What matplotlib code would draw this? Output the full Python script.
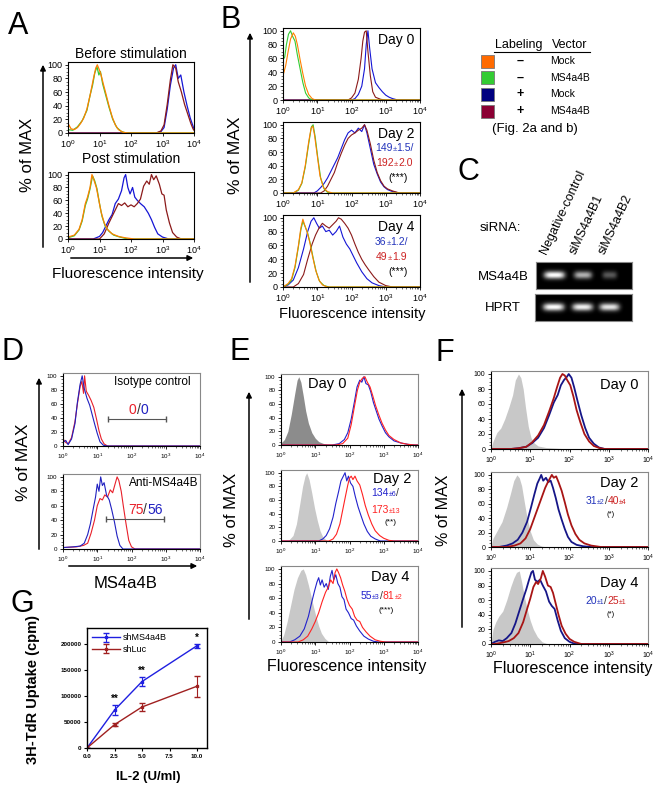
import numpy as np
import matplotlib
matplotlib.use("Agg")
import matplotlib.pyplot as plt
from matplotlib.patches import FancyArrowPatch, Rectangle

plt.rcParams["font.family"] = ["Liberation Sans", "DejaVu Sans"]
plt.rcParams["mathtext.default"] = "regular"

W, H = 661, 787

# ---- data: histograms as (log10 intensity, % of max) pairs ----
# A: before / post stimulation
a_before_orange = [(0.0, 14), (0.1, 6), (0.2, 5), (0.3, 8), (0.4, 14), (0.5, 22), (0.6, 35), (0.7, 55), (0.8, 78),
                   (0.88, 95), (0.93, 100), (1.0, 92), (1.05, 85), (1.12, 72), (1.2, 58), (1.3, 40), (1.4, 24),
                   (1.5, 12), (1.6, 5), (1.75, 1), (1.9, 0)]
a_before_green = [(0.0, 5), (0.15, 4), (0.3, 9), (0.45, 18), (0.6, 33), (0.7, 55), (0.78, 70), (0.85, 88),
                  (0.92, 97), (0.98, 85), (1.03, 90), (1.1, 72), (1.2, 55), (1.3, 38), (1.42, 20), (1.55, 8),
                  (1.7, 2), (1.85, 0)]
a_before_blue = [(2.8, 0), (2.95, 2), (3.05, 8), (3.15, 35), (3.25, 70), (3.35, 95), (3.42, 100), (3.5, 80),
                 (3.58, 85), (3.68, 60), (3.78, 40), (3.88, 22), (3.97, 10), (4.0, 6)]
a_before_maroon = [(2.8, 0), (2.95, 3), (3.05, 12), (3.15, 42), (3.25, 78), (3.33, 100), (3.42, 95), (3.5, 75),
                   (3.6, 60), (3.7, 42), (3.8, 28), (3.9, 14), (3.97, 6), (4.0, 4)]
a_post_orange = [(0.0, 3), (0.2, 6), (0.35, 15), (0.45, 30), (0.55, 55), (0.62, 65), (0.7, 80), (0.76, 100),
                 (0.82, 92), (0.9, 80), (0.98, 60), (1.05, 42), (1.15, 25), (1.25, 15), (1.4, 8), (1.6, 4),
                 (1.8, 2), (2.1, 0)]
a_post_green = [(0.0, 2), (0.2, 5), (0.35, 14), (0.45, 28), (0.55, 52), (0.62, 62), (0.7, 78), (0.78, 98),
                (0.85, 90), (0.92, 78), (1.0, 55), (1.08, 35), (1.18, 20), (1.3, 12), (1.45, 6), (1.65, 3), (1.9, 0)]
a_post_blue = [(0.8, 0), (1.0, 4), (1.1, 10), (1.2, 20), (1.3, 30), (1.4, 38), (1.5, 55), (1.6, 62), (1.7, 75),
               (1.78, 95), (1.83, 100), (1.9, 80), (1.97, 70), (2.05, 80), (2.12, 65), (2.2, 60), (2.3, 55),
               (2.42, 50), (2.55, 40), (2.65, 30), (2.75, 18), (2.85, 8), (3.0, 3), (3.2, 0)]
a_post_maroon = [(1.0, 0), (1.15, 8), (1.3, 25), (1.4, 35), (1.5, 45), (1.6, 55), (1.7, 52), (1.8, 56), (1.9, 50),
                 (2.0, 53), (2.1, 50), (2.2, 55), (2.3, 62), (2.4, 82), (2.5, 90), (2.58, 85), (2.65, 100),
                 (2.72, 92), (2.8, 98), (2.9, 85), (2.98, 70), (3.05, 68), (3.12, 45), (3.22, 25), (3.32, 10),
                 (3.45, 3), (3.6, 0)]

# B: day 0 / 2 / 4
b0_orange = [(0.0, 35), (0.08, 50), (0.15, 70), (0.22, 88), (0.3, 97), (0.36, 92), (0.42, 80), (0.5, 58),
             (0.58, 38), (0.66, 20), (0.75, 8), (0.85, 2), (0.95, 0)]
b0_green = [(0.0, 58), (0.05, 62), (0.1, 80), (0.16, 95), (0.22, 100), (0.28, 92), (0.35, 85), (0.42, 65),
            (0.5, 45), (0.58, 25), (0.66, 10), (0.75, 3), (0.85, 0)]
b0_blue = [(2.0, 0), (2.1, 2), (2.2, 8), (2.3, 20), (2.38, 45), (2.43, 80), (2.48, 100), (2.53, 75), (2.6, 45),
           (2.7, 25), (2.8, 18), (2.9, 12), (3.0, 7), (3.1, 4), (3.2, 2), (3.35, 0)]
b0_maroon = [(1.9, 0), (2.0, 3), (2.1, 10), (2.2, 30), (2.28, 60), (2.33, 85), (2.38, 98), (2.43, 100),
             (2.48, 70), (2.55, 35), (2.62, 12), (2.7, 4), (2.85, 1), (3.0, 0)]
b2_orange = [(0.3, 0), (0.45, 5), (0.55, 15), (0.65, 40), (0.75, 75), (0.82, 95), (0.87, 98), (0.92, 85),
             (1.0, 55), (1.08, 25), (1.18, 8), (1.3, 2), (1.45, 0)]
b2_green = [(0.3, 0), (0.45, 4), (0.55, 14), (0.65, 38), (0.75, 72), (0.83, 97), (0.88, 100), (0.94, 82),
            (1.02, 50), (1.1, 22), (1.2, 6), (1.3, 1), (1.45, 0)]
b2_blue = [(0.9, 0), (1.0, 3), (1.1, 8), (1.2, 14), (1.3, 22), (1.4, 32), (1.5, 42), (1.6, 52), (1.7, 65),
           (1.8, 78), (1.9, 88), (2.0, 92), (2.1, 88), (2.2, 95), (2.3, 90), (2.38, 100), (2.45, 88), (2.55, 65),
           (2.65, 42), (2.75, 28), (2.85, 16), (2.95, 9), (3.05, 5), (3.2, 2), (3.4, 0)]
b2_maroon = [(1.1, 0), (1.2, 3), (1.3, 10), (1.4, 20), (1.5, 30), (1.6, 45), (1.7, 58), (1.8, 70), (1.9, 80),
             (2.0, 85), (2.1, 88), (2.2, 92), (2.3, 95), (2.38, 100), (2.45, 92), (2.55, 72), (2.65, 48),
             (2.75, 30), (2.85, 18), (2.95, 10), (3.05, 6), (3.2, 3), (3.4, 0)]
b4_orange = [(0.0, 0), (0.15, 5), (0.25, 12), (0.35, 30), (0.45, 60), (0.52, 85), (0.58, 98), (0.63, 90),
             (0.7, 80), (0.78, 65), (0.86, 45), (0.95, 25), (1.05, 10), (1.15, 3), (1.3, 0)]
b4_green = [(0.0, 0), (0.15, 4), (0.25, 10), (0.35, 28), (0.45, 58), (0.52, 82), (0.58, 95), (0.64, 88),
            (0.72, 78), (0.8, 62), (0.88, 42), (0.97, 22), (1.07, 8), (1.2, 2), (1.35, 0)]
b4_blue = [(0.0, 0), (0.15, 3), (0.3, 10), (0.45, 28), (0.6, 55), (0.72, 80), (0.82, 95), (0.9, 100), (0.98, 92),
           (1.06, 85), (1.15, 88), (1.25, 80), (1.35, 82), (1.45, 75), (1.55, 80), (1.65, 88), (1.75, 72),
           (1.85, 62), (1.95, 55), (2.05, 45), (2.15, 35), (2.3, 22), (2.45, 12), (2.6, 6), (2.8, 2), (3.0, 0)]
b4_maroon = [(0.3, 0), (0.45, 5), (0.6, 18), (0.72, 40), (0.85, 62), (0.95, 75), (1.05, 85), (1.15, 92),
             (1.25, 88), (1.35, 85), (1.45, 90), (1.55, 95), (1.62, 100), (1.7, 98), (1.8, 92), (1.9, 85),
             (2.0, 75), (2.1, 62), (2.2, 50), (2.3, 40), (2.4, 32), (2.5, 25), (2.65, 15), (2.8, 7), (3.0, 2),
             (3.2, 0)]

# C: gel band intensities
gel_lanes = ["Negative-control", "siMS4a4B1", "siMS4a4B2"]
ms4a4b_bands = [1.0, 0.7, 0.35]
hprt_bands = [1.0, 0.95, 0.9]

# D: isotype / anti-MS4a4B
d_iso_red = [(0.0, 10), (0.08, 5), (0.15, 3), (0.25, 12), (0.35, 35), (0.42, 60), (0.5, 85), (0.55, 92),
             (0.6, 75), (0.63, 100), (0.68, 78), (0.75, 72), (0.82, 65), (0.9, 55), (0.98, 38), (1.05, 22),
             (1.12, 10), (1.2, 3), (1.3, 0)]
d_iso_blue = [(0.0, 5), (0.08, 8), (0.15, 2), (0.25, 10), (0.35, 32), (0.42, 62), (0.5, 88), (0.56, 100),
              (0.62, 82), (0.7, 68), (0.78, 58), (0.85, 45), (0.92, 32), (1.0, 18), (1.08, 6), (1.18, 1), (1.3, 0)]
d_anti_blue = [(0.0, 2), (0.3, 3), (0.5, 4), (0.62, 8), (0.72, 20), (0.8, 35), (0.88, 55), (0.95, 72), (1.0, 90),
               (1.05, 80), (1.1, 100), (1.15, 88), (1.2, 92), (1.27, 75), (1.35, 68), (1.42, 55), (1.5, 38),
               (1.58, 18), (1.66, 5), (1.75, 0)]
d_anti_red = [(0.0, 2), (0.4, 3), (0.6, 5), (0.72, 8), (0.82, 22), (0.92, 40), (1.0, 60), (1.08, 70), (1.15, 68),
              (1.22, 75), (1.3, 72), (1.38, 82), (1.45, 78), (1.52, 90), (1.58, 100), (1.63, 95), (1.7, 80),
              (1.76, 60), (1.84, 35), (1.92, 12), (2.0, 3), (2.1, 0)]
d_iso_gate = (20, 1000)
d_anti_gate = (18, 900)
d_iso_pct = ("0", "0")
d_anti_pct = ("75", "56")

# E: day 0 / 2 / 4
e0_gray = [(0.0, 3), (0.1, 8), (0.2, 20), (0.3, 45), (0.4, 75), (0.47, 95), (0.52, 100), (0.58, 92), (0.65, 72),
           (0.72, 50), (0.8, 32), (0.9, 18), (1.0, 10), (1.1, 5), (1.25, 2), (1.4, 0)]
e0_blue = [(1.5, 0), (1.7, 2), (1.85, 8), (1.95, 18), (2.05, 38), (2.15, 65), (2.22, 85), (2.3, 95), (2.36, 92),
           (2.42, 100), (2.48, 90), (2.55, 88), (2.62, 78), (2.7, 62), (2.78, 50), (2.86, 38), (2.95, 28),
           (3.05, 18), (3.15, 12), (3.3, 6), (3.5, 3), (3.7, 1), (3.9, 0)]
e0_red = [(1.6, 0), (1.8, 2), (1.95, 10), (2.05, 30), (2.15, 58), (2.23, 80), (2.3, 92), (2.38, 98), (2.45, 100),
          (2.52, 92), (2.6, 85), (2.68, 72), (2.76, 58), (2.85, 45), (2.95, 32), (3.05, 22), (3.15, 14), (3.3, 8),
          (3.5, 3), (3.7, 1), (3.9, 0)]
e2_gray = [(0.2, 0), (0.35, 8), (0.45, 25), (0.55, 55), (0.63, 80), (0.7, 95), (0.75, 100), (0.82, 90), (0.9, 70),
           (0.98, 48), (1.06, 30), (1.14, 15), (1.22, 6), (1.35, 0)]
e2_blue = [(1.1, 0), (1.22, 3), (1.32, 8), (1.42, 18), (1.52, 35), (1.6, 55), (1.68, 72), (1.75, 88), (1.82, 95),
           (1.87, 100), (1.92, 88), (1.97, 95), (2.03, 85), (2.1, 80), (2.17, 65), (2.25, 50), (2.33, 38),
           (2.42, 25), (2.52, 14), (2.62, 7), (2.75, 3), (2.9, 0)]
e2_red = [(1.4, 0), (1.52, 3), (1.62, 10), (1.72, 25), (1.8, 45), (1.88, 65), (1.95, 82), (2.0, 92), (2.05, 95),
          (2.1, 90), (2.16, 95), (2.22, 88), (2.3, 82), (2.38, 68), (2.46, 52), (2.55, 38), (2.65, 25), (2.75, 15),
          (2.88, 8), (3.0, 4), (3.15, 1), (3.3, 0)]
e4_gray = [(0.0, 2), (0.08, 10), (0.18, 28), (0.28, 50), (0.38, 72), (0.48, 88), (0.58, 98), (0.65, 100),
           (0.72, 92), (0.8, 78), (0.88, 62), (0.95, 48), (1.02, 35), (1.1, 22), (1.18, 12), (1.28, 5), (1.4, 0)]
e4_blue = [(0.25, 0), (0.4, 3), (0.55, 8), (0.68, 18), (0.8, 35), (0.9, 55), (0.98, 70), (1.05, 82), (1.1, 88),
           (1.15, 78), (1.2, 85), (1.26, 75), (1.32, 80), (1.38, 72), (1.44, 90), (1.49, 98), (1.54, 85),
           (1.6, 92), (1.66, 80), (1.72, 75), (1.78, 62), (1.84, 58), (1.9, 45), (1.97, 40), (2.05, 32),
           (2.12, 30), (2.2, 22), (2.3, 15), (2.42, 8), (2.55, 4), (2.7, 1), (2.85, 0)]
e4_red = [(0.5, 0), (0.65, 3), (0.78, 8), (0.9, 18), (1.0, 28), (1.1, 40), (1.2, 55), (1.3, 68), (1.38, 75),
          (1.45, 85), (1.52, 80), (1.58, 95), (1.63, 100), (1.68, 95), (1.74, 88), (1.8, 78), (1.86, 70),
          (1.93, 58), (2.0, 50), (2.08, 45), (2.15, 35), (2.22, 30), (2.3, 28), (2.38, 20), (2.48, 14),
          (2.6, 8), (2.75, 3), (2.9, 1), (3.05, 0)]

# F: day 0 / 2 / 4
f0_gray = [(0.0, 0), (0.05, 10), (0.15, 22), (0.25, 28), (0.35, 40), (0.45, 55), (0.55, 72), (0.62, 92),
           (0.7, 100), (0.76, 95), (0.82, 80), (0.88, 55), (0.95, 30), (1.02, 15), (1.1, 8), (1.2, 4), (1.4, 2),
           (1.7, 1), (2.0, 0)]
f0_blue = [(0.5, 0), (0.7, 1), (0.9, 3), (1.05, 8), (1.2, 15), (1.35, 28), (1.48, 45), (1.6, 62), (1.7, 72),
           (1.78, 85), (1.86, 92), (1.93, 96), (1.98, 100), (2.05, 95), (2.12, 82), (2.2, 65), (2.3, 45),
           (2.4, 28), (2.5, 15), (2.62, 7), (2.75, 2), (2.9, 0)]
f0_red = [(0.5, 0), (0.7, 1), (0.9, 3), (1.05, 9), (1.2, 18), (1.35, 32), (1.48, 50), (1.6, 68), (1.68, 82),
          (1.76, 95), (1.82, 100), (1.88, 98), (1.94, 92), (2.02, 85), (2.1, 70), (2.18, 52), (2.28, 35),
          (2.38, 20), (2.5, 10), (2.62, 4), (2.78, 1), (2.9, 0)]
f2_gray = [(0.0, 0), (0.05, 12), (0.15, 22), (0.28, 35), (0.4, 55), (0.5, 75), (0.58, 92), (0.66, 100),
           (0.72, 96), (0.78, 85), (0.85, 62), (0.92, 40), (1.0, 22), (1.08, 10), (1.18, 4), (1.3, 1), (1.5, 0)]
f2_blue = [(0.2, 0), (0.4, 2), (0.55, 5), (0.68, 10), (0.8, 20), (0.92, 35), (1.02, 55), (1.1, 72), (1.18, 88),
           (1.24, 95), (1.28, 100), (1.33, 92), (1.4, 96), (1.46, 90), (1.52, 92), (1.58, 82), (1.65, 68),
           (1.72, 52), (1.8, 38), (1.88, 25), (1.96, 14), (2.05, 7), (2.18, 3), (2.35, 1), (2.55, 0)]
f2_red = [(0.4, 0), (0.6, 2), (0.75, 5), (0.88, 12), (1.0, 25), (1.1, 40), (1.2, 55), (1.3, 70), (1.38, 82),
          (1.45, 90), (1.5, 95), (1.55, 100), (1.6, 96), (1.66, 98), (1.72, 90), (1.8, 78), (1.88, 62),
          (1.96, 45), (2.05, 30), (2.15, 18), (2.25, 10), (2.38, 5), (2.55, 2), (2.8, 0)]
f4_gray = [(0.0, 0), (0.05, 20), (0.12, 30), (0.2, 38), (0.3, 45), (0.4, 60), (0.5, 78), (0.58, 90), (0.65, 98),
           (0.72, 100), (0.78, 85), (0.85, 65), (0.92, 48), (1.0, 32), (1.08, 20), (1.18, 10), (1.3, 3), (1.45, 0)]
f4_blue = [(0.0, 0), (0.1, 3), (0.2, 5), (0.3, 4), (0.4, 8), (0.52, 15), (0.62, 28), (0.72, 45), (0.82, 62),
           (0.9, 75), (0.97, 88), (1.03, 98), (1.07, 100), (1.12, 88), (1.18, 85), (1.25, 88), (1.32, 80),
           (1.4, 72), (1.48, 58), (1.55, 52), (1.62, 48), (1.7, 32), (1.78, 18), (1.88, 8), (2.0, 3), (2.15, 0)]
f4_red = [(0.1, 0), (0.3, 2), (0.45, 4), (0.58, 8), (0.7, 15), (0.82, 30), (0.92, 48), (1.0, 62), (1.08, 78),
          (1.15, 85), (1.2, 82), (1.27, 90), (1.32, 100), (1.38, 92), (1.45, 80), (1.52, 78), (1.58, 70),
          (1.65, 55), (1.72, 40), (1.8, 25), (1.9, 14), (2.0, 7), (2.12, 3), (2.3, 0)]

# G: proliferation
il2_dose = [0, 2.5, 5, 10]
sh_ms4a4b = [0, 73000, 128000, 197000]
sh_ms4a4b_err = [0, 10000, 9000, 4000]
sh_luc = [0, 45000, 79000, 119000]
sh_luc_err = [0, 3000, 8000, 20000]
g_signif = ["", "**", "**", "*"]

# legend table of panel A/B
legend_colors = ["#FF6A00", "#33CC33", "#000080", "#8B0033"]
legend_labeling = ["–", "–", "+", "+"]
legend_vector = ["Mock", "MS4a4B", "Mock", "MS4a4B"]

# ---- helpers ----
fig = plt.figure(figsize=(W / 100, H / 100), dpi=100)


def fx(x):
    return x / W


def fy(y):
    return 1 - y / H


def px_axes(x0, y0, x1, y1):
    return fig.add_axes([fx(x0), fy(y1), (x1 - x0) / W, (y1 - y0) / H])


def flow_axes(rect, tick_size=6.5, spine_color="black"):
    ax = px_axes(*rect)
    ax.set_xscale("log")
    ax.set_xlim(1, 1e4)
    ax.set_ylim(0, 104)
    ax.set_xticks([1, 10, 100, 1000, 10000])
    ax.set_yticks([0, 20, 40, 60, 80, 100])
    ax.tick_params(labelsize=tick_size, length=2.5, width=0.6, pad=1.5)
    ax.tick_params(which="minor", length=1.5, width=0.4)
    ax.yaxis.set_minor_locator(matplotlib.ticker.MultipleLocator(5))
    for s in ax.spines.values():
        s.set_linewidth(0.8)
        s.set_color(spine_color)
    ax.spines["left"].set_color("black")
    ax.spines["bottom"].set_color("black")
    return ax


def curve(ax, pts, color, lw=0.9, fill=False):
    lx = [p[0] for p in pts]
    y = [p[1] for p in pts]
    if lx[0] > 0:
        lx = [0.0] + lx
        y = [0] + y
    if lx[-1] < 4:
        lx = lx + [4.0]
        y = y + [0]
    x = 10 ** np.array(lx)
    if fill:
        ax.fill_between(x, y, color=color, lw=0)
    else:
        ax.plot(x, y, color=color, lw=lw)


def rich(ax, x, y, parts, ha="left"):
    t = ax.text(x, y, parts[0][0], color=parts[0][1], fontsize=parts[0][2], transform=ax.transAxes,
                va="center", ha=ha)
    for s, c, fs in parts[1:]:
        t = ax.annotate(s, xy=(1, 0), xycoords=t, color=c, fontsize=fs, va="bottom")


def arrow(p0, p1):
    fig.add_artist(FancyArrowPatch((fx(p0[0]), fy(p0[1])), (fx(p1[0]), fy(p1[1])), transform=fig.transFigure,
                                   arrowstyle="-|>", mutation_scale=8, lw=1.1, color="black"))


def letter(x, y, s):
    fig.text(fx(x), fy(y), s, fontsize=22, ha="center", va="center")


# ---- panel A ----
letter(18, 26, "A")
ORANGE, GREEN, BLUE, MAROON = "#FF8000", "#33CC33", "#1515D5", "#8B1A1A"
ax = flow_axes((68, 62, 194, 133))
for pts, c in [(a_before_blue, BLUE), (a_before_maroon, MAROON), (a_before_green, GREEN), (a_before_orange, ORANGE)]:
    curve(ax, pts, c)
fig.text(fx(131), fy(54), "Before stimulation", fontsize=10, ha="center", va="center")
ax = flow_axes((68, 172, 194, 239))
for pts, c in [(a_post_blue, BLUE), (a_post_maroon, MAROON), (a_post_green, GREEN), (a_post_orange, ORANGE)]:
    curve(ax, pts, c)
fig.text(fx(131), fy(159), "Post stimulation", fontsize=10, ha="center", va="center")
arrow((43, 250), (43, 62))
arrow((68, 258), (196, 258))
fig.text(fx(28), fy(155), "% of MAX", fontsize=12, rotation=90, ha="center", va="center")
fig.text(fx(128), fy(274), "Fluorescence intensity", fontsize=11, ha="center", va="center")

# ---- panel B ----
letter(231, 20, "B")
BBLUE, BRED = "#2233BB", "#CC2222"
b_sets = [(b0_blue, b0_maroon, b0_green, b0_orange), (b2_blue, b2_maroon, b2_green, b2_orange),
          (b4_blue, b4_maroon, b4_green, b4_orange)]
b_rects = [(283, 28, 420, 100), (283, 122, 420, 193), (283, 215, 420, 287)]
b_days = ["Day 0", "Day 2", "Day 4"]
b_stats = [None, (("149", "1.5/"), ("192", "2.0")), (("36", "1.2/"), ("49", "1.9"))]
for rect, curves, day, st in zip(b_rects, b_sets, b_days, b_stats):
    ax = flow_axes(rect)
    for pts, c in zip(curves, [BLUE, MAROON, GREEN, ORANGE]):
        curve(ax, pts, c, lw=0.8)
    ax.text(0.96, 0.83, day, transform=ax.transAxes, fontsize=10, ha="right", va="center")
    if st:
        rich(ax, 0.67, 0.63, [(st[0][0], BBLUE, 7.5), ("±", BBLUE, 5.5), (st[0][1], BBLUE, 7.5)])
        rich(ax, 0.68, 0.42, [(st[1][0], BRED, 7.5), ("±", BRED, 5.5), (st[1][1], BRED, 7.5)])
        ax.text(0.84, 0.21, "(***)", transform=ax.transAxes, fontsize=7.5, ha="center", va="center")
arrow((250, 285), (250, 30))
fig.text(fx(236), fy(155), "% of MAX", fontsize=12.5, rotation=90, ha="center", va="center")
fig.text(fx(352), fy(314), "Fluorescence intensity", fontsize=10.5, ha="center", va="center")

# ---- legend table ----
fig.text(fx(519), fy(45), "Labeling", fontsize=9, ha="center", va="center")
fig.text(fx(570), fy(45), "Vector", fontsize=9, ha="center", va="center")
fig.add_artist(plt.Line2D([fx(494), fx(590)], [fy(52), fy(52)], transform=fig.transFigure, color="black", lw=0.8))
for i, (c, lab, vec) in enumerate(zip(legend_colors, legend_labeling, legend_vector)):
    yc = 61 + i * 16.7
    fig.add_artist(Rectangle((fx(481), fy(yc + 6.5)), 13 / W, 13 / H, transform=fig.transFigure,
                             facecolor=c, edgecolor="#777777", lw=0.6))
    fig.text(fx(520), fy(yc), lab, fontsize=9, ha="center", va="center", fontweight="bold")
    fig.text(fx(550), fy(yc), vec, fontsize=7.5, ha="left", va="center")
fig.text(fx(535), fy(129), "(Fig. 2a and b)", fontsize=9.5, ha="center", va="center")

# ---- panel C ----
letter(468, 172, "C")
fig.text(fx(500), fy(228), "siRNA:", fontsize=9.5, ha="center", va="center")
for lbl, xb in zip(gel_lanes, [549, 578, 607]):
    fig.text(fx(xb), fy(256), lbl, fontsize=9, rotation=65, rotation_mode="anchor", ha="left", va="bottom")
lane_pos = [0.19, 0.49, 0.77]
yy, xx = np.mgrid[0:1:40j, 0:1:120j]
for rect, bands, name, ly in [((536, 262, 632, 289), ms4a4b_bands, "MS4a4B", 277),
                              ((535, 294, 632, 321), hprt_bands, "HPRT", 308)]:
    gax = px_axes(*rect)
    img = np.zeros_like(xx)
    for cpos, v in zip(lane_pos, bands):
        wdt = 0.06 + 0.05 * v
        img += v * np.exp(-((xx - cpos) / wdt) ** 4 - ((yy - 0.5) / 0.14) ** 2)
    gax.imshow(np.clip(img, 0, 1), cmap="gray", vmin=0, vmax=1, aspect="auto", interpolation="bilinear")
    gax.set_xticks([])
    gax.set_yticks([])
    for s in gax.spines.values():
        s.set_color("#888888")
    fig.text(fx(503), fy(ly), name, fontsize=9.5, ha="center", va="center")

# ---- panel D ----
letter(13, 352, "D")
DRED, DBLUE = "#E8202A", "#2020C0"
ax = flow_axes((63, 373, 200, 446), tick_size=4.5, spine_color="#888888")
curve(ax, d_iso_red, DRED, lw=0.8)
curve(ax, d_iso_blue, DBLUE, lw=0.8)
ax.text(0.37, 0.88, "Isotype control", transform=ax.transAxes, fontsize=8.5, va="center")
ax.plot(d_iso_gate, [38, 38], color="#555555", lw=0.8, marker="|", ms=4)
ax.annotate(d_iso_pct[0], xy=(10 ** 2.15, 42), ha="right", va="bottom", color=DRED, fontsize=10)
t = ax.text(10 ** 2.15, 42, "/", ha="left", va="bottom", color="#333333", fontsize=10)
ax.annotate(d_iso_pct[1], xy=(1, 0), xycoords=t, va="bottom", color=DBLUE, fontsize=10)
ax = flow_axes((63, 474, 200, 549), tick_size=4.5, spine_color="#888888")
curve(ax, d_anti_red, DRED, lw=0.8)
curve(ax, d_anti_blue, DBLUE, lw=0.8)
ax.text(0.48, 0.88, "Anti-MS4a4B", transform=ax.transAxes, fontsize=8.5, va="center")
ax.plot(d_anti_gate, [41, 41], color="#555555", lw=0.8, marker="|", ms=4)
ax.annotate(d_anti_pct[0], xy=(10 ** 2.35, 45), ha="right", va="bottom", color=DRED, fontsize=10)
t = ax.text(10 ** 2.35, 45, "/", ha="left", va="bottom", color="#333333", fontsize=10)
ax.annotate(d_anti_pct[1], xy=(1, 0), xycoords=t, va="bottom", color=DBLUE, fontsize=10)
arrow((39, 552), (39, 375))
arrow((66, 566), (200, 566))
fig.text(fx(24), fy(462), "% of MAX", fontsize=12.5, rotation=90, ha="center", va="center")
fig.text(fx(126), fy(584), "MS4a4B", fontsize=12, ha="center", va="center")

# ---- panel E ----
letter(240, 352, "E")
EBLUE, ERED = "#2222CC", "#FF2222"
e_sets = [(e0_gray, e0_blue, e0_red), (e2_gray, e2_blue, e2_red), (e4_gray, e4_blue, e4_red)]
e_rects = [(281, 374, 418, 445), (281, 470, 418, 541), (281, 566, 418, 642)]
e_grays = ["#8C8C8C", "#C8C8C8", "#C8C8C8"]
for rect, (g, b, r), gc in zip(e_rects, e_sets, e_grays):
    ax = flow_axes(rect, tick_size=4.5, spine_color="#888888")
    curve(ax, g, gc, fill=True)
    curve(ax, b, EBLUE, lw=0.8)
    curve(ax, r, ERED, lw=0.8)
    if rect is e_rects[0]:
        ax.text(0.2, 0.86, "Day 0", transform=ax.transAxes, fontsize=10.5, va="center")
    elif rect is e_rects[1]:
        ax.text(0.95, 0.88, "Day 2", transform=ax.transAxes, fontsize=10.5, va="center", ha="right")
        rich(ax, 0.66, 0.68, [("134", EBLUE, 7.5), ("±6", EBLUE, 5), ("/", "#333333", 7.5)])
        rich(ax, 0.66, 0.44, [("173", ERED, 7.5), ("±13", ERED, 5)])
        ax.text(0.8, 0.26, "(**)", transform=ax.transAxes, fontsize=6, ha="center", va="center")
    else:
        ax.text(0.94, 0.86, "Day 4", transform=ax.transAxes, fontsize=10.5, va="center", ha="right")
        rich(ax, 0.58, 0.6, [("55", EBLUE, 7.5), ("±3", EBLUE, 5), ("/", "#333333", 7.5),
                             ("81", ERED, 7.5), ("±2", ERED, 5)])
        ax.text(0.77, 0.41, "(***)", transform=ax.transAxes, fontsize=6, ha="center", va="center")
arrow((249, 622), (249, 389))
fig.text(fx(232), fy(510), "% of MAX", fontsize=12, rotation=90, ha="center", va="center")
fig.text(fx(347), fy(667), "Fluorescence intensity", fontsize=11.5, ha="center", va="center")

# ---- panel F ----
letter(445, 353, "F")
FBLUE, FRED = "#161688", "#A81515"
f_sets = [(f0_gray, f0_blue, f0_red), (f2_gray, f2_blue, f2_red), (f4_gray, f4_blue, f4_red)]
f_rects = [(491, 371, 648, 449), (491, 472, 648, 547), (491, 568, 648, 644)]
f_days = ["Day 0", "Day 2", "Day 4"]
f_stats = [None, (("31", "±2"), ("40", "±4")), (("20", "±1"), ("25", "±1"))]
f_text_y = [(0.82, None, None), (0.85, 0.61, 0.44), (0.8, 0.57, 0.39)]
for rect, (g, b, r), day, st, ty in zip(f_rects, f_sets, f_days, f_stats, f_text_y):
    ax = flow_axes(rect, tick_size=5, spine_color="#888888")
    curve(ax, g, "#C8C8C8", fill=True)
    curve(ax, b, FBLUE, lw=1.3)
    curve(ax, r, FRED, lw=1.3)
    ax.text(0.94, ty[0], day, transform=ax.transAxes, fontsize=10.5, va="center", ha="right")
    if st:
        rich(ax, 0.6, ty[1], [(st[0][0], "#2233BB", 7.5), (st[0][1], "#2233BB", 5), ("/", "#333333", 7.5),
                              (st[1][0], "#CC2222", 7.5), (st[1][1], "#CC2222", 5)])
        ax.text(0.76, ty[2], "(*)", transform=ax.transAxes, fontsize=5.5, ha="center", va="center")
arrow((462, 630), (462, 386))
fig.text(fx(443), fy(510), "% of MAX", fontsize=11.5, rotation=90, ha="center", va="center")
fig.text(fx(573), fy(669), "Fluorescence intensity", fontsize=11.5, ha="center", va="center")

# ---- panel G ----
letter(22, 604, "G")
ax = px_axes(87, 628, 207, 748)
ax.errorbar(il2_dose, sh_ms4a4b, yerr=sh_ms4a4b_err, color="#1F1FE0", marker="s", ms=2, lw=1,
            elinewidth=0.8, capsize=2, label="shMS4a4B")
ax.errorbar(il2_dose, sh_luc, yerr=sh_luc_err, color="#A02020", marker="s", ms=2, lw=1,
            elinewidth=0.8, capsize=2, label="shLuc")
for xv, yv, ev, s in zip(il2_dose, sh_ms4a4b, sh_ms4a4b_err, g_signif):
    if s:
        ax.text(xv, yv + ev + 2000, s, ha="center", va="bottom", fontsize=7, fontweight="bold")
ax.set_xlim(0, 10.9)
ax.set_ylim(0, 231000)
ax.set_xticks([0, 2.5, 5, 7.5, 10])
ax.set_xticklabels(["0.0", "2.5", "5.0", "7.5", "10.0"])
ax.set_yticks([0, 50000, 100000, 150000, 200000])
ax.set_yticklabels(["0", "50000", "100000", "150000", "200000"])
ax.tick_params(labelsize=4.5, length=2.5, width=0.8, pad=1.5)
for lab in ax.get_xticklabels() + ax.get_yticklabels():
    lab.set_fontweight("bold")
for s in ax.spines.values():
    s.set_linewidth(1.0)
ax.legend(loc="upper left", frameon=False, fontsize=6.5, handlelength=3, borderaxespad=0.2,
          labelspacing=0.3, handletextpad=0.4)
fig.text(fx(33), fy(690), "3H-TdR Uptake (cpm)", fontsize=10.5, fontweight="bold", rotation=90,
         ha="center", va="center")
fig.text(fx(148), fy(777), "IL-2 (U/ml)", fontsize=9.5, fontweight="bold", ha="center", va="center")

fig.savefig("out.png", dpi=100)
